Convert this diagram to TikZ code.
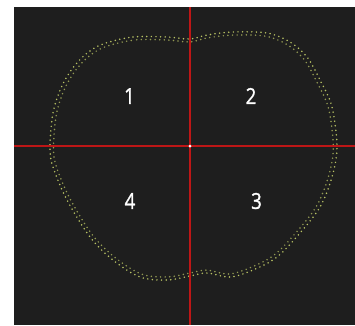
\documentclass[tikz,border=0pt]{standalone}
\usepackage{fontspec}
\newfontfamily\numfont[FakeBold=1.3]{Open Sans}
\definecolor{bgdark}{RGB}{30,30,30}
\definecolor{crossred}{RGB}{190,22,22}
\definecolor{dotyellow}{RGB}{185,195,100}
\begin{document}
\begin{tikzpicture}[x=1pt,y=-1pt,
  quadlabel/.style={text=white,font=\numfont\fontsize{22}{22}\selectfont,inner sep=0pt},
  crossline/.style={draw=crossred,line width=2pt},
  contour/.style={draw=dotyellow,line width=1.7pt,dash pattern=on 0pt off 4.6pt,line cap=round}]
\useasboundingbox (0,0) rectangle (355,325);
\fill[white] (0,0) rectangle (355,325);
\fill[bgdark] (14,7) rectangle (355,325);
% contour (two dotted rows)
\draw[contour] plot[smooth cycle,tension=0.55] coordinates {
 (103,44) (133,37) (167,37) (190,39) (207,35) (233,32) (267,33) (290,42) (307,57)
 (320,80) (332,107) (337,147) (332,177) (320,207) (300,233) (277,257) (253,270) (230,277)
 (207,273) (190,276) (167,280) (140,277) (113,260) (90,237) (67,200) (53,167) (50,147)
 (53,113) (61,88) (72,69) (86,54)};
\begin{scope}[shift={(190,157)},scale=0.975,shift={(-190,-157)}]
\draw[contour,dash phase=2.3pt,opacity=0.75] plot[smooth cycle,tension=0.55] coordinates {
 (103,44) (133,37) (167,37) (190,39) (207,35) (233,32) (267,33) (290,42) (307,57)
 (320,80) (332,107) (337,147) (332,177) (320,207) (300,233) (277,257) (253,270) (230,277)
 (207,273) (190,276) (167,280) (140,277) (113,260) (90,237) (67,200) (53,167) (50,147)
 (53,113) (61,88) (72,69) (86,54)};
\end{scope}
% cross
\coordinate (top) at (190,7);
\coordinate (bottom) at (190,325);
\coordinate (left) at (14,146);
\coordinate (right) at (355,146);
\coordinate (center) at (190,146);
\draw[crossline] (left) -- (right);
\draw[crossline] (top) -- (bottom);
\fill[white] (center) circle (1.5pt);
% labels
\node[quadlabel] (q1) at (129.5,96) {\scalebox{0.85}[1]{1}};
\node[quadlabel] (q2) at (251,96) {\scalebox{0.85}[1]{2}};
\node[quadlabel] (q4) at (130,201) {\scalebox{0.85}[1]{4}};
\node[quadlabel] (q3) at (256.5,201) {\scalebox{0.85}[1]{3}};
\end{tikzpicture}
\end{document}
